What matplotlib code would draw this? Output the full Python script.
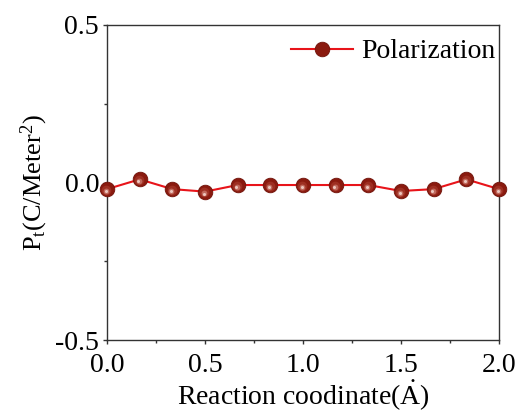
import matplotlib
matplotlib.use("Agg")
import matplotlib.pyplot as plt
import matplotlib.transforms as mtransforms
from matplotlib.lines import Line2D
from matplotlib.ticker import MultipleLocator

plt.rcParams['font.family'] = ['Liberation Serif', 'DejaVu Serif']
plt.rcParams['mathtext.fontset'] = 'custom'
plt.rcParams['mathtext.rm'] = 'Liberation Serif'
plt.rcParams['mathtext.it'] = 'Liberation Serif:italic'

x_vals = [0.0, 1/6, 2/6, 3/6, 4/6, 5/6, 1.0, 7/6, 8/6, 9/6, 10/6, 11/6, 2.0]
p_vals = [-0.021, 0.010, -0.021, -0.029, -0.008, -0.008, -0.008, -0.008, -0.008,
          -0.027, -0.021, 0.010, -0.021]
series_label = "Polarization"
x_ticks = [0.0, 0.5, 1.0, 1.5, 2.0]
y_ticks = [-0.5, 0.0, 0.5]

fig = plt.figure(figsize=(5.2, 4.12), dpi=100)
ax = fig.add_axes([107/520, 1 - 340/412, (499-107)/520, (340-25)/412])

ax.plot(x_vals, p_vals, color='#e8141a', lw=1.5, zorder=2, clip_on=False)
# sphere-like markers: base + shading layers
ax.plot(x_vals, p_vals, ls='none', marker='o', ms=10.5, mfc='#8a1a0f', mec='#701209',
        mew=0.6, zorder=3, clip_on=False)
sh1 = mtransforms.offset_copy(ax.transData, fig=fig, x=-0.4, y=-0.6, units='points')
ax.plot(x_vals, p_vals, ls='none', marker='o', ms=7, mfc='#9e2f22', mec='none',
        zorder=4, clip_on=False, transform=sh1)
sh2 = mtransforms.offset_copy(ax.transData, fig=fig, x=-0.8, y=-1.2, units='points')
ax.plot(x_vals, p_vals, ls='none', marker='o', ms=4.2, mfc='#c0685c', mec='none',
        zorder=5, clip_on=False, transform=sh2)
sh3 = mtransforms.offset_copy(ax.transData, fig=fig, x=-1.0, y=-1.5, units='points')
ax.plot(x_vals, p_vals, ls='none', marker='o', ms=2.2, mfc='#ecc6be', mec='none',
        zorder=6, clip_on=False, transform=sh3)

handle = Line2D([], [], color='#e8141a', lw=1.5, marker='o', ms=10.5,
                mfc='#8a1a0f', mec='#701209', mew=0.6)
ax.legend([handle], [series_label], loc='upper right', frameon=False, fontsize=20,
          handlelength=2.2, handletextpad=0.3, borderaxespad=0.1,
          bbox_to_anchor=(1.0 + 10/392, 1.0))

ax.set_xlim(0, 2.0)
ax.set_ylim(-0.5, 0.5)
ax.set_xticks(x_ticks)
ax.set_yticks(y_ticks)
ax.set_xticklabels([f"{v:.1f}" for v in x_ticks])
ax.set_yticklabels([f"{v:.1f}" for v in y_ticks])
ax.xaxis.set_minor_locator(MultipleLocator(0.25))
ax.yaxis.set_minor_locator(MultipleLocator(0.25))
ax.tick_params(which='major', direction='out', length=3.2, width=1, labelsize=20,
               top=False, right=False, color='#333333')
ax.tick_params(axis='x', which='major', pad=6.5)
ax.tick_params(axis='y', which='major', pad=2.5)
ax.tick_params(which='minor', direction='out', length=2, width=1, top=False,
               right=False, color='#333333')
for s in ax.spines.values():
    s.set_linewidth(1.0)
    s.set_color('#333333')

ax.set_xlabel("Reaction coodinate($\\dot{\\mathrm{A}}$)", fontsize=20, labelpad=0)
ax.set_ylabel("P$_\\mathrm{t}$(C/Meter$^2$)", fontsize=19, labelpad=4)

fig.savefig("out.png", dpi=100)
